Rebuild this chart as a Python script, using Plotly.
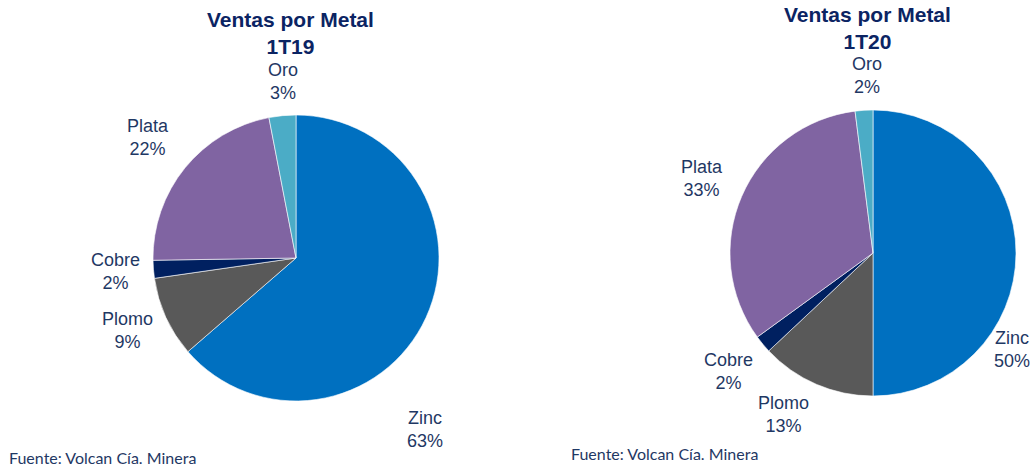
import plotly.graph_objects as go

# ---- data ----
metals = ["Zinc", "Plomo", "Cobre", "Plata", "Oro"]
ventas_1t19 = [63, 9, 2, 22, 3]
ventas_1t20 = [50, 13, 2, 33, 2]
titles = ["Ventas por Metal<br>1T19", "Ventas por Metal<br>1T20"]
source_note = "Fuente: Volcan Cía. Minera"

# ---- style ----
W, H = 1033, 468
colors = ["#0070C0", "#595959", "#002060", "#8064A2", "#4BACC6"]
label_color = "#1F3864"
title_color = "#0B2463"
font_family = "Liberation Sans, Arial, sans-serif"

def px(x):
    return x / W

def py(y):
    return 1 - y / H

# pie boxes in window pixels (left, top, right, bottom)
pie_boxes = [(153, 115, 439, 401), (730, 110, 1016, 396)]
# label centres in window pixels (Excel-style manually placed labels)
label_pos = [
    [(425, 429), (127, 330), (115, 271), (148, 137), (283, 81)],
    [(1012, 349), (783, 414), (728, 371), (702, 178), (867, 76)],
]
title_pos = [(290, 33), (867, 28)]
note_pos = [(7, 457), (569, 453)]

fig = go.Figure()
annotations = []
for i, vals in enumerate([ventas_1t19, ventas_1t20]):
    l, t, r, b = pie_boxes[i]
    fig.add_trace(go.Pie(
        labels=metals, values=vals,
        marker=dict(colors=colors, line=dict(color="white", width=0.6)),
        sort=False, direction="clockwise", rotation=0,
        textinfo="none", hoverinfo="label+percent",
        domain=dict(x=[px(l), px(r)], y=[py(b), py(t)]),
        showlegend=False,
    ))
    for lab, v, (lx, ly) in zip(metals, vals, label_pos[i]):
        annotations.append(dict(
            text=f"{lab}<br>{v}%", x=px(lx), y=py(ly), xref="paper", yref="paper",
            xanchor="center", yanchor="middle", showarrow=False, align="center",
            font=dict(family=font_family, size=18, color=label_color),
        ))
    tx, ty = title_pos[i]
    annotations.append(dict(
        text=f"<b>{titles[i]}</b>", x=px(tx), y=py(ty), xref="paper", yref="paper",
        xanchor="center", yanchor="middle", showarrow=False, align="center",
        font=dict(family=font_family, size=21, color=title_color),
    ))
    nx, ny = note_pos[i]
    annotations.append(dict(
        text=source_note, x=px(nx), y=py(ny), xref="paper", yref="paper",
        xanchor="left", yanchor="middle", showarrow=False, align="left",
        font=dict(family="Lato, Carlito, sans-serif", size=16, color=label_color),
    ))

fig.update_layout(
    width=W, height=H,
    margin=dict(l=0, r=0, t=0, b=0),
    paper_bgcolor="white", plot_bgcolor="white",
    annotations=annotations,
)

fig.write_html(
    "out.html",
    config={"displayModeBar": False},
    post_script="document.body.style.margin='0';"
                "document.documentElement.style.overflow='hidden';",
)
